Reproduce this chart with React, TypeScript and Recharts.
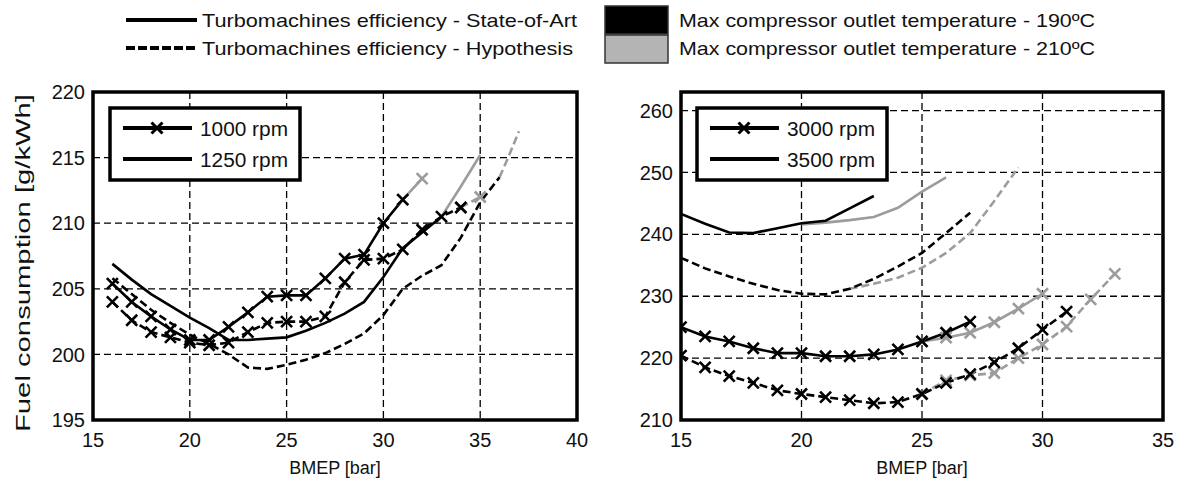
import React from 'react';
import { LineChart, Line, XAxis, YAxis, CartesianGrid, ReferenceArea } from 'recharts';

const FONT = '"Liberation Sans", Arial, sans-serif';
const BLACK = '#000000';
const GRAY = '#9c9c9c';

// ---------- axis ticks ----------
const L_X_TICKS = [15, 20, 25, 30, 35, 40];
const L_Y_TICKS = [195, 200, 205, 210, 215, 220];
const R_X_TICKS = [15, 20, 25, 30, 35];
const R_Y_TICKS = [210, 220, 230, 240, 250, 260];

// ---------- legend texts ----------
const TOP_LEGEND = [
  'Turbomachines efficiency - State-of-Art',
  'Turbomachines efficiency - Hypothesis',
  'Max compressor outlet temperature - 190ºC',
  'Max compressor outlet temperature - 210ºC',
];
const LEFT_SPEEDS = ['1000 rpm', '1250 rpm'];
const RIGHT_SPEEDS = ['3000 rpm', '3500 rpm'];
const Y_TITLE = 'Fuel consumption [g/kWh]';
const X_TITLE = 'BMEP [bar]';

// ---------- left panel: 1000 rpm (markers) ----------
const L1000_SOA_190_X = [16, 17, 18, 19, 20, 21, 22, 23, 24, 25, 26, 27, 28, 29, 30, 31];
const L1000_SOA_190_Y = [205.4, 204.0, 202.9, 201.9, 201.1, 201.1, 202.1, 203.2, 204.4, 204.5, 204.5, 205.8, 207.3, 207.6, 210.0, 211.8];
const L1000_SOA_210_X = [31, 32];
const L1000_SOA_210_Y = [211.8, 213.4];
const L1000_HYP_190_X = [16, 17, 18, 19, 20, 21, 22, 23, 24, 25, 26, 27, 28, 29, 30, 31, 32, 33, 34];
const L1000_HYP_190_Y = [204.0, 202.6, 201.7, 201.3, 200.9, 200.7, 200.9, 201.7, 202.4, 202.5, 202.5, 202.9, 205.5, 207.2, 207.3, 208.0, 209.5, 210.5, 211.2];
const L1000_HYP_210_X = [34, 35];
const L1000_HYP_210_Y = [211.2, 212.0];

// ---------- left panel: 1250 rpm (no markers) ----------
const L1250_SOA_190_X = [16, 17, 18, 19, 20, 21, 22, 23, 24, 25, 26, 27, 28, 29, 30, 31, 32, 33];
const L1250_SOA_190_Y = [206.9, 205.7, 204.6, 203.7, 202.8, 202.0, 201.1, 201.1, 201.2, 201.3, 201.8, 202.4, 203.1, 204.0, 205.9, 208.1, 209.3, 210.5];
const L1250_SOA_210_X = [33, 34, 35];
const L1250_SOA_210_Y = [210.5, 212.8, 215.2];
const L1250_HYP_190_X = [16, 17, 18, 19, 20, 21, 22, 23, 24, 25, 26, 27, 28, 29, 30, 31, 32, 33, 34, 35, 36];
const L1250_HYP_190_Y = [205.8, 204.6, 203.4, 202.4, 201.5, 200.8, 200.0, 199.0, 198.9, 199.2, 199.6, 200.1, 200.8, 201.6, 203.0, 205.0, 206.0, 206.8, 208.9, 211.6, 213.5];
const L1250_HYP_210_X = [36, 36.5, 37];
const L1250_HYP_210_Y = [213.5, 215.2, 217.0];

// ---------- right panel: 3000 rpm (markers) ----------
const R3000_SOA_190_X = [15, 16, 17, 18, 19, 20, 21, 22, 23, 24, 25, 26, 27];
const R3000_SOA_190_Y = [225.0, 223.5, 222.7, 221.6, 220.8, 220.8, 220.3, 220.3, 220.6, 221.4, 222.7, 224.1, 225.9];
const R3000_SOA_210_X = [25, 26, 27, 28, 29, 30];
const R3000_SOA_210_Y = [222.7, 223.3, 224.1, 225.8, 228.0, 230.4];
const R3000_HYP_190_X = [15, 16, 17, 18, 19, 20, 21, 22, 23, 24, 25, 26, 27, 28, 29, 30, 31];
const R3000_HYP_190_Y = [220.4, 218.5, 217.1, 216.0, 214.8, 214.2, 213.7, 213.2, 212.7, 212.9, 214.2, 216.0, 217.4, 219.3, 221.6, 224.6, 227.5];
const R3000_HYP_210_X = [25, 26, 27, 28, 29, 30, 31, 32, 33];
const R3000_HYP_210_Y = [214.2, 216.4, 217.2, 217.6, 220.0, 222.2, 225.1, 229.5, 233.6];

// ---------- right panel: 3500 rpm (no markers) ----------
const R3500_SOA_190_X = [15, 16, 17, 18, 19, 20, 21, 22, 23];
const R3500_SOA_190_Y = [243.3, 241.7, 240.3, 240.2, 241.0, 241.8, 242.2, 244.2, 246.2];
const R3500_SOA_210_X = [20, 21, 22, 23, 24, 25, 26];
const R3500_SOA_210_Y = [241.6, 241.9, 242.3, 242.8, 244.3, 246.9, 249.2];
const R3500_HYP_190_X = [15, 16, 17, 18, 19, 20, 21, 22, 23, 24, 25, 26, 27];
const R3500_HYP_190_Y = [236.2, 234.5, 233.2, 232.0, 231.0, 230.4, 230.3, 231.2, 232.8, 234.8, 237.0, 240.2, 243.5];
const R3500_HYP_210_X = [22, 23, 24, 25, 26, 27, 28, 29];
const R3500_HYP_210_Y = [231.2, 232.0, 233.0, 234.6, 237.0, 240.2, 245.4, 250.8];

type Pt = { x: number; y: number };
const zip = (xs: number[], ys: number[]): Pt[] => xs.map((x, i) => ({ x, y: ys[i] }));

type Series = { id: string; data: Pt[]; color: string; dashed: boolean; marker: boolean };

const LEFT_SERIES: Series[] = [
  { id: 'l1250h210', data: zip(L1250_HYP_210_X, L1250_HYP_210_Y), color: GRAY, dashed: true, marker: false },
  { id: 'l1250s210', data: zip(L1250_SOA_210_X, L1250_SOA_210_Y), color: GRAY, dashed: false, marker: false },
  { id: 'l1000h210', data: zip(L1000_HYP_210_X, L1000_HYP_210_Y), color: GRAY, dashed: true, marker: true },
  { id: 'l1000s210', data: zip(L1000_SOA_210_X, L1000_SOA_210_Y), color: GRAY, dashed: false, marker: true },
  { id: 'l1250h190', data: zip(L1250_HYP_190_X, L1250_HYP_190_Y), color: BLACK, dashed: true, marker: false },
  { id: 'l1250s190', data: zip(L1250_SOA_190_X, L1250_SOA_190_Y), color: BLACK, dashed: false, marker: false },
  { id: 'l1000h190', data: zip(L1000_HYP_190_X, L1000_HYP_190_Y), color: BLACK, dashed: true, marker: true },
  { id: 'l1000s190', data: zip(L1000_SOA_190_X, L1000_SOA_190_Y), color: BLACK, dashed: false, marker: true },
];

const RIGHT_SERIES: Series[] = [
  { id: 'r3500h210', data: zip(R3500_HYP_210_X, R3500_HYP_210_Y), color: GRAY, dashed: true, marker: false },
  { id: 'r3500s210', data: zip(R3500_SOA_210_X, R3500_SOA_210_Y), color: GRAY, dashed: false, marker: false },
  { id: 'r3000h210', data: zip(R3000_HYP_210_X, R3000_HYP_210_Y), color: GRAY, dashed: true, marker: true },
  { id: 'r3000s210', data: zip(R3000_SOA_210_X, R3000_SOA_210_Y), color: GRAY, dashed: false, marker: true },
  { id: 'r3500h190', data: zip(R3500_HYP_190_X, R3500_HYP_190_Y), color: BLACK, dashed: true, marker: false },
  { id: 'r3500s190', data: zip(R3500_SOA_190_X, R3500_SOA_190_Y), color: BLACK, dashed: false, marker: false },
  { id: 'r3000h190', data: zip(R3000_HYP_190_X, R3000_HYP_190_Y), color: BLACK, dashed: true, marker: true },
  { id: 'r3000s190', data: zip(R3000_SOA_190_X, R3000_SOA_190_Y), color: BLACK, dashed: false, marker: true },
];

const makeCross = (color: string) => (props: any) => {
  const { cx, cy, index } = props;
  if (cx == null || cy == null) return <g key={`n${index}`} />;
  const s = 5.5;
  return (
    <path
      key={`c${index}`}
      d={`M${cx - s},${cy - s}L${cx + s},${cy + s}M${cx - s},${cy + s}L${cx + s},${cy - s}`}
      stroke={color}
      strokeWidth={2.6}
      fill="none"
    />
  );
};

const tickStyle = { fontFamily: FONT, fontSize: 20, fill: '#111' };

function Panel(props: {
  series: Series[];
  width: number;
  margin: { top: number; right: number; bottom: number; left: number };
  xDomain: [number, number];
  yDomain: [number, number];
  xTicks: number[];
  yTicks: number[];
}) {
  const { series, width, margin, xDomain, yDomain, xTicks, yTicks } = props;
  return (
    <LineChart width={width} height={483} margin={margin}>
      <CartesianGrid stroke="#000" strokeWidth={1.3} strokeDasharray="7 4" />
      <XAxis
        type="number"
        dataKey="x"
        domain={xDomain}
        ticks={xTicks}
        allowDataOverflow
        axisLine={false}
        tickLine={false}
        tickSize={4}
        tickMargin={9}
        height={30}
        tick={tickStyle}
        interval={0}
      />
      <YAxis
        type="number"
        dataKey="y"
        domain={yDomain}
        ticks={yTicks}
        allowDataOverflow
        axisLine={false}
        tickLine={false}
        tickSize={2}
        tickMargin={6}
        width={60}
        tick={tickStyle}
        interval={0}
      />
      {series.map((s) => (
        <Line
          key={s.id}
          data={s.data}
          dataKey="y"
          type="linear"
          stroke={s.color}
          strokeWidth={2.6}
          strokeDasharray={s.dashed ? '8 4' : undefined}
          dot={s.marker ? makeCross(s.color) : false}
          activeDot={false}
          isAnimationActive={false}
          legendType="none"
        />
      ))}
      <ReferenceArea
        x1={xDomain[0]}
        x2={xDomain[1]}
        y1={yDomain[0]}
        y2={yDomain[1]}
        fill="none"
        fillOpacity={0}
        stroke="#000"
        strokeWidth={3.5}
        ifOverflow="visible"
      />
    </LineChart>
  );
}

function InnerLegend({ x0, labels }: { x0: number; labels: string[] }) {
  const bx = x0;
  return (
    <g>
      <rect x={bx} y={108} width={190} height={72} fill="#fff" stroke="#000" strokeWidth={3.5} />
      <line x1={bx + 13} x2={bx + 82} y1={128} y2={128} stroke="#000" strokeWidth={4} />
      <path
        d={`M${bx + 41.5},${122.5}L${bx + 52.5},${133.5}M${bx + 41.5},${133.5}L${bx + 52.5},${122.5}`}
        stroke="#000"
        strokeWidth={3}
        fill="none"
      />
      <line x1={bx + 13} x2={bx + 82} y1={159} y2={159} stroke="#000" strokeWidth={4} />
      <text x={bx + 90} y={129} fontFamily={FONT} fontSize={20} fill="#111" dominantBaseline="central" textLength={88} lengthAdjust="spacingAndGlyphs">
        {labels[0]}
      </text>
      <text x={bx + 90} y={160} fontFamily={FONT} fontSize={20} fill="#111" dominantBaseline="central" textLength={88} lengthAdjust="spacingAndGlyphs">
        {labels[1]}
      </text>
    </g>
  );
}

export default function App() {
  return (
    <div style={{ position: 'absolute', left: 0, top: 0, width: 1182, height: 483, background: '#fff', overflow: 'hidden' }}>
      <div style={{ position: 'absolute', left: 0, top: 0 }}>
        <Panel
          series={LEFT_SERIES}
          width={600}
          margin={{ top: 92, right: 23, bottom: 33, left: 33 }}
          xDomain={[15, 40]}
          yDomain={[195, 220]}
          xTicks={L_X_TICKS}
          yTicks={L_Y_TICKS}
        />
      </div>
      <div style={{ position: 'absolute', left: 600, top: 0 }}>
        <Panel
          series={RIGHT_SERIES}
          width={582}
          margin={{ top: 92, right: 19, bottom: 33, left: 21 }}
          xDomain={[15, 35]}
          yDomain={[210, 263]}
          xTicks={R_X_TICKS}
          yTicks={R_Y_TICKS}
        />
      </div>
      <svg width={1182} height={483} style={{ position: 'absolute', left: 0, top: 0, pointerEvents: 'none' }}>
        <line x1={126} x2={197} y1={20} y2={20} stroke="#000" strokeWidth={4} />
        <line x1={126} x2={197} y1={48} y2={48} stroke="#000" strokeWidth={4} strokeDasharray="9 3" />
        <text x={202} y={20} fontFamily={FONT} fontSize={19} fill="#111" dominantBaseline="central" textLength={375} lengthAdjust="spacingAndGlyphs">
          {TOP_LEGEND[0]}
        </text>
        <text x={202} y={48} fontFamily={FONT} fontSize={19} fill="#111" dominantBaseline="central" textLength={371} lengthAdjust="spacingAndGlyphs">
          {TOP_LEGEND[1]}
        </text>
        <rect x={605} y={6} width={63} height={28} fill="#000" stroke="#333" strokeWidth={1.5} />
        <rect x={605} y={35} width={63} height={28} fill="#b4b4b4" stroke="#333" strokeWidth={1.5} />
        <text x={679} y={20} fontFamily={FONT} fontSize={19} fill="#111" dominantBaseline="central" textLength={416} lengthAdjust="spacingAndGlyphs">
          {TOP_LEGEND[2]}
        </text>
        <text x={679} y={48} fontFamily={FONT} fontSize={19} fill="#111" dominantBaseline="central" textLength={416} lengthAdjust="spacingAndGlyphs">
          {TOP_LEGEND[3]}
        </text>
        <InnerLegend x0={110} labels={LEFT_SPEEDS} />
        <InnerLegend x0={697} labels={RIGHT_SPEEDS} />
        <text
          transform="translate(22,263) rotate(-90)"
          textAnchor="middle"
          dominantBaseline="central"
          fontFamily={FONT}
          fontSize={21}
          fill="#111"
          textLength={338}
          lengthAdjust="spacingAndGlyphs"
        >
          {Y_TITLE}
        </text>
        <text x={335} y={468} textAnchor="middle" dominantBaseline="central" fontFamily={FONT} fontSize={18} fill="#111">
          {X_TITLE}
        </text>
        <text x={922} y={468} textAnchor="middle" dominantBaseline="central" fontFamily={FONT} fontSize={18} fill="#111">
          {X_TITLE}
        </text>
      </svg>
    </div>
  );
}
